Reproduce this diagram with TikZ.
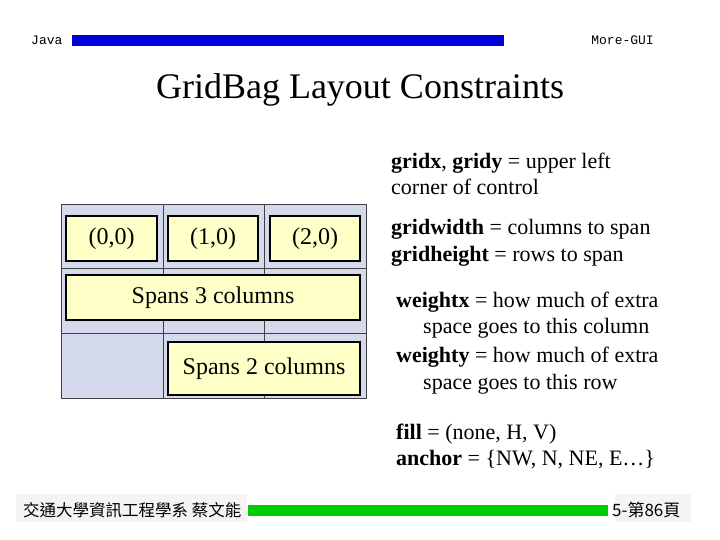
\documentclass[tikz,border=0pt]{standalone}
\usepackage{fontspec}
\setmainfont{Liberation Serif}
\newfontfamily\monofont{Liberation Mono}
\newfontfamily\cjk{Noto Sans CJK TC}
\definecolor{barblue}{HTML}{0000DD}
\definecolor{bargreen}{HTML}{00CC00}
\definecolor{cellfill}{HTML}{D4D9EB}
\definecolor{cellline}{HTML}{404040}
\definecolor{boxfill}{HTML}{FFFFC8}
\definecolor{footgray}{HTML}{F4F4F4}
\tikzset{
  cellbox/.style={draw=cellline, line width=0.6pt, fill=cellfill},
  compbox/.style={draw=black, line width=1.8pt, fill=boxfill, inner sep=0pt,
    font=\fontsize{24}{26}\selectfont},
  notetext/.style={anchor=base west, inner sep=0pt, font=\fontsize{22}{26}\selectfont},
}

\begin{document}
\begin{tikzpicture}[x=1pt,y=-1pt]
  \useasboundingbox[fill=white] (0,0) rectangle (720,540);

  % header
  \node[anchor=base west, inner sep=0pt, font=\monofont\fontsize{13}{14}\selectfont] (java) at (31,45) {Java};
  \fill[barblue] (72,35) rectangle (504,46);
  \node[anchor=base east, inner sep=0pt, font=\monofont\fontsize{13}{14}\selectfont] (gui) at (654,45) {More-GUI};
  \node[anchor=base, inner sep=0pt, font=\fontsize{36}{40}\selectfont] (title) at (360,99) {GridBag Layout Constraints};

  % grid cells
  \foreach \c/\xa/\xb in {0/61/163,1/163/264,2/264/366}
    \foreach \r/\ya/\yb in {0/204/268,1/268/333,2/333/398}
      \draw[cellbox] (\xa,\ya) rectangle (\xb,\yb);

  % components
  \node[compbox, minimum width=91pt, minimum height=45pt] (c00) at (111.5,238.5) {(0,0)};
  \node[compbox, minimum width=90pt, minimum height=45pt] (c10) at (213,238.5) {(1,0)};
  \node[compbox, minimum width=90pt, minimum height=45pt] (c20) at (315,238.5) {(2,0)};
  \node[compbox, minimum width=294pt, minimum height=45pt] (span3) at (213,297.5) {Spans 3 columns};
  \node[compbox, minimum width=192pt, minimum height=53pt] (span2) at (264,368.5) {Spans 2 columns};

  % notes
  \node[notetext] (n1) at (391,169) {\textbf{gridx}, \textbf{gridy} = upper left};
  \node[notetext] (n2) at (391,195) {corner of control};
  \node[notetext] (n3) at (391,235) {\textbf{gridwidth} = columns to span};
  \node[notetext] (n4) at (391,261) {\textbf{gridheight} = rows to span};
  \node[notetext] (n5) at (396,307) {\textbf{weightx} = how much of extra};
  \node[notetext] (n6) at (423,333) {space goes to this column};
  \node[notetext] (n7) at (396,362) {\textbf{weighty} = how much of extra};
  \node[notetext] (n8) at (423,389) {space goes to this row};
  \node[notetext] (n9) at (396,439) {\textbf{fill} = (none, H, V)};
  \node[notetext] (n10) at (396,465) {\textbf{anchor} = \{NW, N, NE, E\ldots\}};

  % footer
  \fill[footgray] (16,494) rectangle (247,522);
  \fill[footgray] (615,494) rectangle (691,522);
  \node[anchor=base west, inner sep=0pt, font=\cjk\fontsize{16.5}{18}\selectfont] (dept) at (23,516) {交通大學資訊工程學系 蔡文能};
  \fill[bargreen] (248,505) rectangle (608,516);
  \node[anchor=base west, inner sep=0pt, font=\cjk\fontsize{17}{18}\selectfont] (page) at (612,516) {5-第86頁};
\end{tikzpicture}
\end{document}
